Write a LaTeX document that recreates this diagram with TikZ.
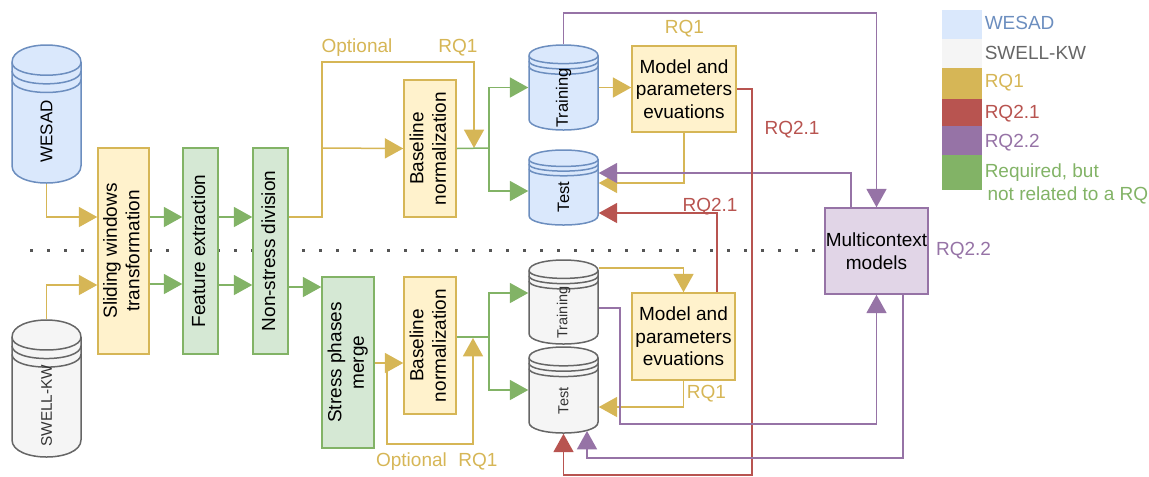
\documentclass[tikz,border=0pt]{standalone}
\usepackage{fontspec}
\setmainfont{Liberation Sans}
\usepackage{graphicx}
\usetikzlibrary{arrows.meta}

\definecolor{wesadfill}{HTML}{DAE8FC}
\definecolor{wesadline}{HTML}{6C8EBF}
\definecolor{swellfill}{HTML}{F5F5F5}
\definecolor{swellline}{HTML}{666666}
\definecolor{rqonefill}{HTML}{FFF2CC}
\definecolor{rqone}{HTML}{D6B656}
\definecolor{rqtwoone}{HTML}{B85450}
\definecolor{rqtwotwo}{HTML}{9673A6}
\definecolor{multifill}{HTML}{E1D5E7}
\definecolor{reqfill}{HTML}{D5E8D4}
\definecolor{req}{HTML}{82B366}
\definecolor{dotgray}{HTML}{555555}

\newcommand{\boxfont}{\fontsize{11.4}{13.5}\selectfont}
\newcommand{\vtext}[1]{\rotatebox{90}{\begin{tabular}{@{}c@{}}#1\end{tabular}}}
\newcommand{\datastore}[8]{%
  \pgfmathsetmacro{\dsdy}{#7/8}
  \draw[#1] (#4,#5+\dsdy) .. controls (#4,#5-\dsdy/3) and (#4+#6,#5-\dsdy/3) .. (#4+#6,#5+\dsdy)
    -- (#4+#6,#5+#7-\dsdy) .. controls (#4+#6,#5+#7+\dsdy/3) and (#4,#5+#7+\dsdy/3) .. (#4,#5+#7-\dsdy) -- cycle;
  \foreach \dsk in {1,1.5,2}
    \draw[#1, fill=none] (#4,#5+\dsk*\dsdy) .. controls (#4,#5+\dsk*\dsdy+\dsdy) and (#4+#6,#5+\dsk*\dsdy+\dsdy) .. (#4+#6,#5+\dsk*\dsdy);
  \node[inner sep=0pt, minimum width=#6*0.6pt, minimum height=#7*0.6pt] (#3) at (#4+#6/2,#5+#7/2) {};
  \node[rotate=90, inner sep=0pt, #2] at (#4+#6/2,#5+#7/2+\dsdy) {#8};
}

\tikzset{
    sz/.style 2 args={inner sep=0pt, minimum width=#1*0.6pt, minimum height=#2*0.6pt},
    yel/.style={draw=rqone, fill=rqonefill},
    grn/.style={draw=req, fill=reqfill},
    pur/.style={draw=rqtwotwo, fill=multifill},
    blu/.style={draw=wesadline, fill=wesadfill},
    gry/.style={draw=swellline, fill=swellfill},
    tip/.style={-{Triangle[length=11pt,width=12pt]}},
    rqa/.style={draw=rqone, tip},
    reqa/.style={draw=req, tip},
    reda/.style={draw=rqtwoone, tip},
    pura/.style={draw=rqtwotwo, tip},
    lbl/.style={inner sep=0pt}
}

\begin{document}
\begin{tikzpicture}[x=0.6pt, y=-0.6pt, line width=0.9pt, font=\boxfont]
    \useasboundingbox (0,0) rectangle (1149,476);

    \draw[dotgray, line width=1.8pt, dash pattern=on 1.8pt off 8.4pt] (30,250) -- (825,250);

    \datastore{blu}{font=\fontsize{10.2}{12}\selectfont}{wesad}{12}{45}{69}{138}{WESAD}
    \datastore{gry}{font=\fontsize{9.2}{11}\selectfont, text=black!80}{swell}{12}{320}{69}{137}{SWELL-KW}
    \datastore{blu}{font=\fontsize{9.9}{12}\selectfont}{train_a}{529}{45}{69}{85}{Training}
    \datastore{blu}{font=\fontsize{9.9}{12}\selectfont}{test_a}{529}{150}{69}{75}{Test}
    \datastore{gry}{font=\fontsize{8.7}{10}\selectfont, text=black!80}{train_b}{529}{260}{69}{84}{Training}
    \datastore{gry}{font=\fontsize{8.7}{10}\selectfont, text=black!80}{test_b}{529}{347}{69}{86}{Test}

    \node[yel, sz={51}{206}] (slide) at (123.5,251) {\vtext{Sliding windows\\transformation}};
    \node[grn, sz={35}{206}] (feat) at (200.5,251) {\vtext{Feature extraction}};
    \node[grn, sz={35}{206}] (nsd) at (270.5,251) {\vtext{Non-stress division}};
    \node[yel, sz={52}{137}] (base_a) at (430,148.5) {\vtext{Baseline\\normalization}};
    \node[yel, sz={104}{86}, align=center] (model_a) at (684,89) {Model and\\parameters\\evuations};
    \node[pur, sz={103}{86}, align=center] (multi) at (876.5,251) {Multicontext\\models};
    \node[grn, sz={52}{171}] (stress) at (348,362.5) {\vtext{Stress phases\\merge}};
    \node[yel, sz={52}{137}] (base_b) at (430,345.5) {\vtext{Baseline\\normalization}};
    \node[yel, sz={103}{87}, align=center] (model_b) at (683.5,336.5) {Model and\\parameters\\evuations};

    \coordinate (split_a) at (322,148);
    \coordinate (join_a) at (474,148);
    \coordinate (fork_a) at (489,148);
    \coordinate (split_b) at (387,363);
    \coordinate (join_b) at (473,338);
    \coordinate (fork_b) at (489,337);
    \coordinate (test_b_in) at (587,431);

    \draw[rqa] (wesad.south) |- (slide.west |- 0,217);
    \draw[rqa] (swell.north) |- (slide.west |- 0,285);
    \draw[reqa] (slide.east |- 0,217) -- (feat.west |- 0,217);
    \draw[reqa] (slide.east |- 0,284) -- (feat.west |- 0,284);
    \draw[reqa] (feat.east |- 0,217) -- (nsd.west |- 0,217);
    \draw[reqa] (feat.east |- 0,285) -- (nsd.west |- 0,285);

    \draw[rqa] (nsd.east |- 0,217) -| (322,62) -| (join_a);
    \draw[rqa] (split_a) -- (base_a.west);
    \node[lbl, text=rqone] at (357,48) {Optional};
    \node[lbl, text=rqone] at (458,48) {RQ1};
    \draw[draw=req] (base_a.east) -- (fork_a);
    \draw[reqa] (fork_a) |- (train_a.west);
    \draw[reqa] (fork_a) |- (test_a.west |- 0,191);
    \draw[rqa] (train_a.east) -- (model_a.west |- train_a.east);
    \node[lbl, text=rqone] at (684.5,29) {RQ1};
    \draw[rqa] (model_a.south) |- (test_a.east |- 0,183);
    \draw[pura] (multi.north -| 851,0) |- (test_a.east |- 0,173);
    \draw[pura] (train_a.north) -- (train_a.north |- 0,13) -| (multi.north);
    \draw[reda] (model_a.east) -| (752,475) -| (test_b.south);
    \node[lbl, text=rqtwoone] at (792,130) {RQ2.1};
    \draw[reda] (model_b.north -| 717,0) |- (test_a.east |- 0,213);
    \node[lbl, text=rqtwoone] at (710,207) {RQ2.1};
    \node[lbl, text=rqtwotwo] at (963.5,251) {RQ2.2};

    \draw[reqa] (nsd.east |- 0,287) -- (stress.west |- 0,287);
    \draw[rqa] (stress.east |- 0,363) -- (base_b.west |- 0,363);
    \draw[rqa] (split_b) -- (387,444) -| (join_b);
    \node[lbl, text=rqone] at (411.5,462) {Optional};
    \node[lbl, text=rqone] at (478,462) {RQ1};
    \draw[draw=req] (base_b.east |- fork_b) -- (fork_b);
    \draw[reqa] (fork_b) |- (train_b.west |- 0,293);
    \draw[reqa] (fork_b) |- (test_b.west |- 0,390);
    \draw[rqa] (train_b.east |- 0,268) -| (model_b.north);
    \draw[rqa] (model_b.south) |- (test_b.east |- 0,407);
    \node[lbl, text=rqone] at (706.5,394) {RQ1};
    \draw[pura] (train_b.east |- 0,308) -| (620,424) -| (multi.south);
    \draw[pura] (multi.south -| 903,0) -- (903,458) -| (test_b_in);

    \fill[wesadfill] (942,10) rectangle (982,39);
    \fill[swellfill] (942,39) rectangle (982,68);
    \fill[rqone] (942,68) rectangle (982,99);
    \fill[rqtwoone] (942,99) rectangle (982,126);
    \fill[rqtwotwo] (942,126) rectangle (982,155);
    \fill[req] (942,155) rectangle (982,190);
    \node[lbl, anchor=west, text=wesadline] at (984,23) {WESAD};
    \node[lbl, anchor=west, text=swellline] at (984,53) {SWELL-KW};
    \node[lbl, anchor=west, text=rqone] at (984,83) {RQ1};
    \node[lbl, anchor=west, text=rqtwoone] at (984,114) {RQ2.1};
    \node[lbl, anchor=west, text=rqtwotwo] at (984,143) {RQ2.2};
    \node[lbl, anchor=west, text=req, align=left] at (984,184) {Required, but\\\hspace{0.15em}not related to a RQ};
\end{tikzpicture}
\end{document}
